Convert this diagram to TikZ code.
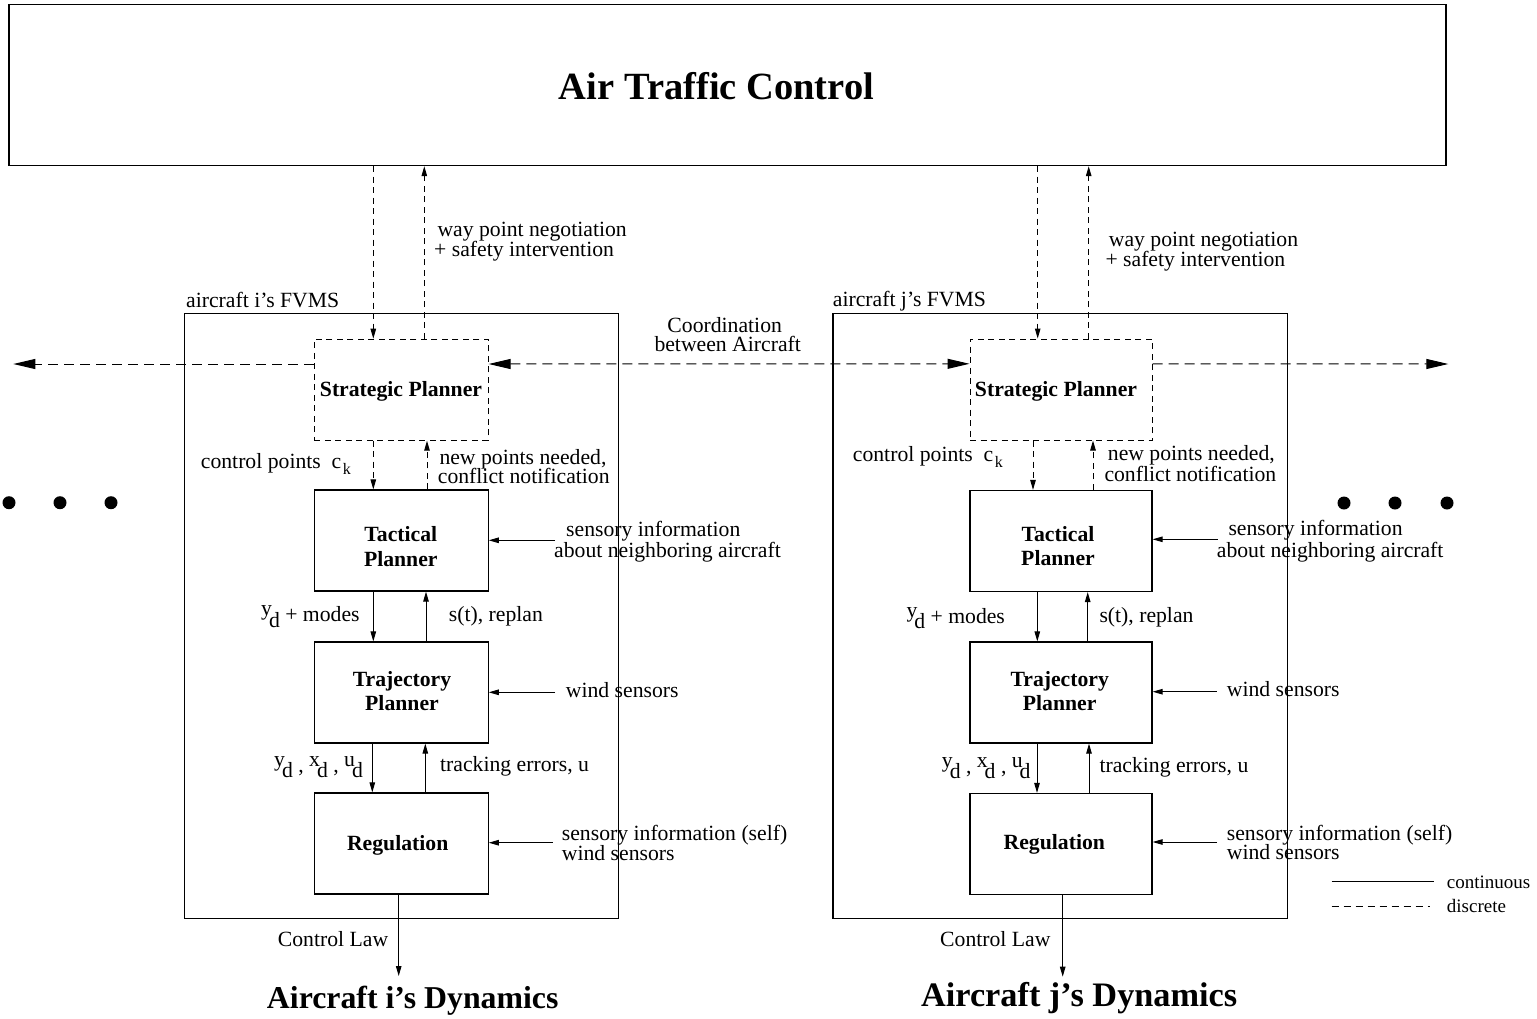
\documentclass[tikz,border=0pt]{standalone}
\usepackage{fontspec}
\setmainfont{Liberation Serif}
\usetikzlibrary{arrows.meta}

% text sizes
\newcommand\labfont{\fontsize{21.7}{20.5}\selectfont}
\newcommand\legfont{\fontsize{19}{19}\selectfont}
% letter with a lowered "d" beside it (y_d, x_d, u_d)
\newcommand\subd[1]{\raisebox{6pt}{#1}\kern-3pt\raisebox{-5.5pt}{d}}
% c with subscript k
\newcommand\ck{c\kern1.5pt\raisebox{-6pt}{\fontsize{16}{16}\selectfont k}}

\begin{document}
\begin{tikzpicture}[x=1pt,y=-1pt,
  box/.style={draw, line width=1.2pt, inner sep=0pt, minimum height=101pt},
  dbox/.style={box, line width=1pt, dash pattern=on 6pt off 4.5pt},
  frame/.style={draw, line width=1.2pt, inner sep=0pt},
  lbl/.style={font=\labfont, inner sep=0pt, anchor=base west},
  blbl/.style={font=\labfont\bfseries, inner sep=0pt, anchor=base},
  arr/.style={line width=1pt, -{Triangle[length=10pt,width=5.5pt]}},
  darr/.style={arr, dash pattern=on 6pt off 4.5pt},
  cdash/.style={line width=1pt, dash pattern=on 10pt off 6pt},
  ctip/.tip={Triangle[length=22pt,width=10pt]}]

\useasboundingbox (0,0) rectangle (1537,1018);

% ---------- air traffic control ----------
\node[frame, line width=1.4pt, minimum width=1437pt, minimum height=161pt] (atc) at (727.5,85) {};
\node[font=\fontsize{38.5}{40}\selectfont\bfseries, inner sep=0pt, anchor=base] (atcT) at (716.5,99) {Air Traffic Control};

% ---------- FVMS frames ----------
\node[frame, minimum width=434pt, minimum height=605pt] (fvmsI) at (401.3,616.2) {};
\node[frame, minimum width=454.7pt, minimum height=605pt] (fvmsJ) at (1060.35,616.2) {};
\node[lbl] (fvmsIT) at (186,307.3) {aircraft i’s FVMS};
\node[lbl] (fvmsJT) at (832.7,306.7) {aircraft j’s FVMS};

% ---------- planner boxes, aircraft i ----------
\node[dbox, minimum width=173.7pt] (stratI) at (401.3,389.7) {};
\node[box, minimum width=173.7pt] (tacI) at (401.3,540.5) {};
\node[box, minimum width=173.7pt] (trajI) at (401.3,692.5) {};
\node[box, minimum width=173.7pt] (regI) at (401.3,843.5) {};
\node[blbl] (stratIT) at (401,396) {Strategic Planner};
\node[blbl] (tacIT1) at (400.8,541) {Tactical};
\node[blbl] (tacIT2) at (400.8,566) {Planner};
\node[blbl] (trajIT1) at (402,686) {Trajectory};
\node[blbl] (trajIT2) at (402,710.7) {Planner};
\node[blbl] (regIT) at (397.7,850) {Regulation};

% ---------- planner boxes, aircraft j ----------
\node[dbox, minimum width=182pt] (stratJ) at (1061,389.5) {};
\node[box, minimum width=182pt] (tacJ) at (1061,541) {};
\node[box, minimum width=182pt] (trajJ) at (1061,692.5) {};
\node[box, minimum width=182pt] (regJ) at (1061,844) {};
\node[blbl] (stratJT) at (1056,396) {Strategic Planner};
\node[blbl] (tacJT1) at (1058,541) {Tactical};
\node[blbl] (tacJT2) at (1058,565.7) {Planner};
\node[blbl] (trajJT1) at (1059.7,686) {Trajectory};
\node[blbl] (trajJT2) at (1059.7,710.7) {Planner};
\node[blbl] (regJT) at (1054.3,849.3) {Regulation};

% ---------- ATC <-> strategic planners ----------
\draw[darr] ([xshift=-28pt]stratI.north |- atc.south) -- ([xshift=-28pt]stratI.north);
\draw[darr] ([xshift=23pt]stratI.north) -- ([xshift=23pt]stratI.north |- atc.south);
\draw[darr] ([xshift=-23.3pt]stratJ.north |- atc.south) -- ([xshift=-23.3pt]stratJ.north);
\draw[darr] ([xshift=27.7pt]stratJ.north) -- ([xshift=27.7pt]stratJ.north |- atc.south);
\node[lbl] (wpI1) at (437.3,236) {way point negotiation};
\node[lbl] (wpI2) at (434,256.5) {+ safety intervention};
\node[lbl] (wpJ1) at (1108.7,246.7) {way point negotiation};
\node[lbl] (wpJ2) at (1105.3,266.7) {+ safety intervention};

% ---------- coordination between aircraft ----------
\coordinate (coL) at (13.3,364);
\coordinate (coR) at (1448.3,364);
\draw[cdash, -ctip] ([yshift=25.7pt]stratI.west) -- (coL);
\draw[cdash, ctip-ctip] ([yshift=25.7pt]stratI.east) -- ([yshift=25.7pt]stratJ.west);
\draw[cdash, -ctip] ([yshift=25.7pt]stratJ.east) -- (coR);
\node[font=\labfont, inner sep=0pt, anchor=base] (coT1) at (724.7,332.3) {Coordination};
\node[font=\labfont, inner sep=0pt, anchor=base] (coT2) at (727.7,351.7) {between Aircraft};

% ---------- vertical flows, aircraft i ----------
\draw[darr] ([xshift=-28pt]stratI.south) -- ([xshift=-28pt]tacI.north);
\draw[darr] ([xshift=25.7pt]tacI.north) -- ([xshift=25.7pt]stratI.south);
\draw[arr] ([xshift=-28pt]tacI.south) -- ([xshift=-28pt]trajI.north);
\draw[arr] ([xshift=24.7pt]trajI.north) -- ([xshift=24.7pt]tacI.south);
\draw[arr] ([xshift=-29pt]trajI.south) -- ([xshift=-29pt]regI.north);
\draw[arr] ([xshift=24pt]regI.north) -- ([xshift=24pt]trajI.south);
\node[lbl] (cpI) at (200.7,468.7) {control points\ \ \ck};
\node[lbl] (npI1) at (439.3,464.3) {new points needed,};
\node[lbl] (npI2) at (437.7,483.3) {conflict notification};
\node[lbl] (ydI) at (261,621.7) {\subd{y} + modes};
\node[lbl] (stI) at (448.7,621.7) {s(t), replan};
\node[lbl] (xdI) at (274,772) {\subd{y} , \subd{x} , \subd{u}};
\node[lbl] (teI) at (440,771.7) {tracking errors, u};

% ---------- vertical flows, aircraft j ----------
\draw[darr] ([xshift=-28pt]stratJ.south) -- ([xshift=-28pt]tacJ.north);
\draw[darr] ([xshift=32pt]tacJ.north) -- ([xshift=32pt]stratJ.south);
\draw[arr] ([xshift=-23.7pt]tacJ.south) -- ([xshift=-23.7pt]trajJ.north);
\draw[arr] ([xshift=26.7pt]trajJ.north) -- ([xshift=26.7pt]tacJ.south);
\draw[arr] ([xshift=-24pt]trajJ.south) -- ([xshift=-24pt]regJ.north);
\draw[arr] ([xshift=28pt]regJ.north) -- ([xshift=28pt]trajJ.south);
\node[lbl] (cpJ) at (852.7,461) {control points\ \ \ck};
\node[lbl] (npJ1) at (1107.7,460.7) {new points needed,};
\node[lbl] (npJ2) at (1104.3,481) {conflict notification};
\node[lbl] (ydJ) at (906.3,623.3) {\subd{y} + modes};
\node[lbl] (stJ) at (1099.3,622.7) {s(t), replan};
\node[lbl] (xdJ) at (941.7,773.3) {\subd{y} , \subd{x} , \subd{u}};
\node[lbl] (teJ) at (1099.3,772.7) {tracking errors, u};

% ---------- sensor inputs ----------
\coordinate (sTacI) at (555,540.3);
\coordinate (sTrajI) at (555,692.3);
\coordinate (sRegI) at (552.7,842.7);
\draw[arr] (sTacI) -- (sTacI -| tacI.east);
\draw[arr] (sTrajI) -- (sTrajI -| trajI.east);
\draw[arr] (sRegI) -- (sRegI -| regI.east);
\node[lbl] (snI1) at (566,536.7) {sensory information};
\node[lbl] (snI2) at (554,557.3) {about neighboring aircraft};
\node[lbl] (wsI) at (565.7,697.3) {wind sensors};
\node[lbl] (ssI1) at (561.7,840) {sensory information (self)};
\node[lbl] (ssI2) at (561.7,860) {wind sensors};

\coordinate (sTacJ) at (1217.7,539.3);
\coordinate (sTrajJ) at (1216.7,691.7);
\coordinate (sRegJ) at (1217,842);
\draw[arr] (sTacJ) -- (sTacJ -| tacJ.east);
\draw[arr] (sTrajJ) -- (sTrajJ -| trajJ.east);
\draw[arr] (sRegJ) -- (sRegJ -| regJ.east);
\node[lbl] (snJ1) at (1228.3,535) {sensory information};
\node[lbl] (snJ2) at (1216.7,557.3) {about neighboring aircraft};
\node[lbl] (wsJ) at (1226.7,696.7) {wind sensors};
\node[lbl] (ssJ1) at (1226.7,840.7) {sensory information (self)};
\node[lbl] (ssJ2) at (1226.7,859.3) {wind sensors};

% ---------- control law outputs ----------
\coordinate (dynI) at (398.7,976);
\coordinate (dynJ) at (1062.7,976.7);
\draw[arr] ([xshift=-2.6pt]regI.south) -- (dynI);
\draw[arr] ([xshift=1.7pt]regJ.south) -- (dynJ);
\node[lbl] (clI) at (277.7,946.7) {Control Law};
\node[lbl] (clJ) at (940,946.7) {Control Law};
\node[font=\fontsize{31.8}{34}\selectfont\bfseries, inner sep=0pt, anchor=base] (dynIT) at (412.7,1008.3) {Aircraft i’s Dynamics};
\node[font=\fontsize{34.3}{36}\selectfont\bfseries, inner sep=0pt, anchor=base] (dynJT) at (1079.2,1006.7) {Aircraft j’s Dynamics};

% ---------- further aircraft ----------
\foreach \x in {9,60,111} \fill (\x,502.7) circle (6.5);
\foreach \x in {1344,1395,1447} \fill (\x,503) circle (6.5);

% ---------- legend ----------
\coordinate (lgA1) at (1331.7,881);
\coordinate (lgA2) at (1434,881);
\coordinate (lgB1) at (1331.7,906);
\coordinate (lgB2) at (1430,906);
\draw[line width=1pt] (lgA1) -- (lgA2);
\draw[line width=1pt, dash pattern=on 7pt off 5pt] (lgB1) -- (lgB2);
\node[font=\legfont, inner sep=0pt, anchor=base west] (lgAT) at (1446.7,888) {continuous};
\node[font=\legfont, inner sep=0pt, anchor=base west] (lgBT) at (1446.7,912.5) {discrete};
\end{tikzpicture}
\end{document}
